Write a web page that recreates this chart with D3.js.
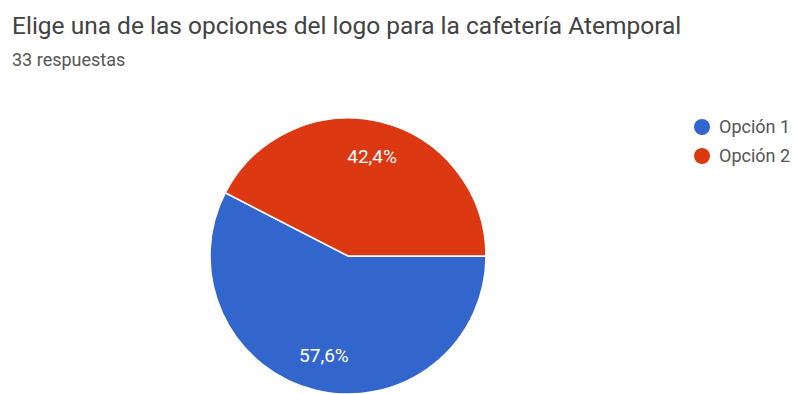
<!DOCTYPE html>
<meta charset="utf-8">
<html lang="es">
<style>
body { margin: 0; background: #fff; }
text { font-family: Roboto, "Noto Sans", sans-serif; }
</style>
<body>
<script src="https://d3js.org/d3.v7.min.js"></script>
<script>

// data
var categories = ["Opción 1", "Opción 2"];
var counts = [19, 14];
var labels = ["57,6%", "42,4%"];
var colors = ["#3366cc", "#dc3912"];
var title = "Elige una de las opciones del logo para la cafetería Atemporal";
var subtitle = "33 respuestas";

var width = 794, height = 394;
var cx = 348, cy = 256, radius = 138;

var svg = d3.select("body").append("svg")
    .attr("width", width)
    .attr("height", height);

svg.append("text")
    .attr("x", 12)
    .attr("y", 34)
    .style("font-size", "24.5px")
    .style("fill", "#424242")
    .text(title);

svg.append("text")
    .attr("x", 12)
    .attr("y", 66)
    .style("font-size", "18px")
    .style("fill", "#555")
    .text(subtitle);

// pie starts at 3 o'clock and runs clockwise
var pie = d3.pie()
    .sort(null)
    .startAngle(Math.PI / 2)
    .endAngle(Math.PI / 2 + 2 * Math.PI);

var arc = d3.arc().innerRadius(0).outerRadius(radius);
var labelArc = d3.arc().innerRadius(radius * 0.74).outerRadius(radius * 0.74);

var g = svg.append("g")
    .attr("transform", "translate(" + cx + "," + cy + ")");

var slices = g.selectAll(".slice")
    .data(pie(counts))
  .enter().append("g")
    .attr("class", "slice");

slices.append("path")
    .attr("d", arc)
    .style("fill", function(d, i) { return colors[i]; })
    .style("stroke", "#fff")
    .style("stroke-width", 1.5);

slices.append("text")
    .attr("transform", function(d) { return "translate(" + labelArc.centroid(d) + ")"; })
    .attr("text-anchor", "middle")
    .attr("dy", "0.35em")
    .style("font-size", "19px")
    .style("fill", "#fff")
    .text(function(d, i) { return labels[i]; });

// legend
var legend = svg.selectAll(".legend")
    .data(categories)
  .enter().append("g")
    .attr("class", "legend")
    .attr("transform", function(d, i) { return "translate(702," + (127 + i * 29) + ")"; });

legend.append("circle")
    .attr("r", 8)
    .style("fill", function(d, i) { return colors[i]; });

legend.append("text")
    .attr("x", 17)
    .attr("dy", "0.35em")
    .style("font-size", "18px")
    .style("fill", "#555")
    .text(function(d) { return d; });

</script>
</body>
</html>
